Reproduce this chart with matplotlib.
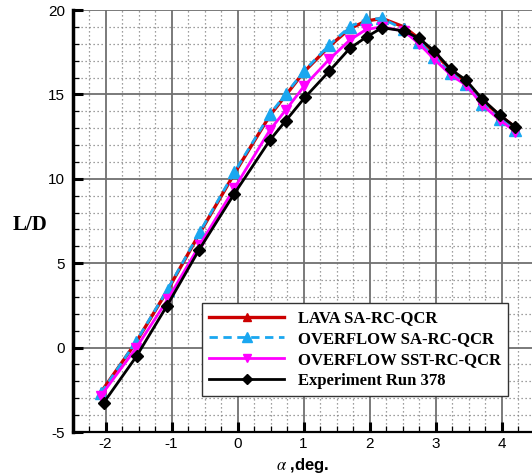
import matplotlib
matplotlib.use("Agg")
import matplotlib.pyplot as plt
from matplotlib.ticker import MultipleLocator

plt.rcParams["mathtext.fontset"] = "stix"
plt.rcParams["axes.unicode_minus"] = False

# ---- data ----
alpha_cfd = [-2.07, -1.54, -1.06, -0.57, -0.05, 0.49, 0.73, 1.01, 1.39, 1.70,
             1.95, 2.19, 2.52, 2.75, 2.98, 3.23, 3.46, 3.71, 3.97, 4.21]
alpha_exp = [-2.03, -1.53, -1.07, -0.58, -0.05, 0.49, 0.73, 1.02, 1.39, 1.70,
             1.96, 2.19, 2.52, 2.75, 2.98, 3.23, 3.46, 3.71, 3.97, 4.21]
lava_sa = [-2.65, 0.30, 3.40, 6.80, 10.30, 13.75, 14.95, 16.35, 17.85, 18.90,
           19.35, 19.50, 19.00, 18.30, 17.45, 16.45, 15.75, 14.65, 13.75, 13.05]
overflow_sa = [-2.70, 0.34, 3.44, 6.86, 10.38, 13.82, 15.02, 16.40, 17.93, 19.01,
               19.45, 19.50, 18.85, 18.10, 17.20, 16.25, 15.60, 14.45, 13.55, 12.90]
overflow_sst = [-2.85, -0.05, 2.85, 6.10, 9.43, 12.89, 14.07, 15.50, 17.08, 18.22,
                18.85, 19.00, 18.75, 18.00, 17.08, 16.15, 15.55, 14.37, 13.48, 12.79]
experiment = [-3.28, -0.51, 2.47, 5.81, 9.11, 12.29, 13.44, 14.82, 16.38, 17.73,
              18.42, 18.95, 18.76, 18.32, 17.57, 16.48, 15.85, 14.71, 13.78, 13.06]
labels = ["LAVA SA-RC-QCR", "OVERFLOW SA-RC-QCR", "OVERFLOW SST-RC-QCR", "Experiment Run 378"]
xticks = [-2, -1, 0, 1, 2, 3, 4]
yticks = [-5, 0, 5, 10, 15, 20]

W, H = 532, 476
fig = plt.figure(figsize=(W / 100, H / 100), dpi=100)
ax = fig.add_axes([72.7 / W, 1 - 432 / H, 1 - 72.7 / W, (432 - 10) / H])

ax.set_xlim(-2.497, 4.46)
ax.set_ylim(-5, 20)
ax.set_xticks(xticks)
ax.set_yticks(yticks)
ax.set_xticklabels([str(v) for v in xticks])
ax.set_yticklabels([str(v) for v in yticks])
ax.xaxis.set_minor_locator(MultipleLocator(0.25))
ax.yaxis.set_minor_locator(MultipleLocator(1))

ax.grid(which="major", color="#707070", linewidth=1.3, linestyle="-", zorder=0)
ax.grid(which="minor", color="#808080", linewidth=0.9, linestyle=(0, (1, 2.2)), zorder=0)
ax.set_axisbelow(True)

for s in ["top", "right"]:
    ax.spines[s].set_visible(False)
ax.spines["left"].set_linewidth(2.5)
ax.spines["bottom"].set_linewidth(1.6)

ax.tick_params(which="major", direction="in", length=7, width=2.2, color="black")
ax.tick_params(which="minor", direction="in", length=4, width=0.9, color="black")
ax.tick_params(axis="y", which="major", pad=5.5)
ax.tick_params(axis="x", which="major", pad=3.5)
for lab in ax.get_xticklabels() + ax.get_yticklabels():
    lab.set_fontfamily("Liberation Sans")
    lab.set_fontsize(11)

l1, = ax.plot(alpha_cfd, lava_sa, color="#cc0000", linewidth=2.4, marker="^",
              markersize=6, markerfacecolor="#cc0000", markeredgecolor="#cc0000", zorder=3)
l2, = ax.plot(alpha_cfd, overflow_sa, color="#1aa7f0", linewidth=2.0, linestyle=(0, (3, 2)),
              marker="^", markersize=8, markerfacecolor="#1aa7f0", markeredgecolor="#1aa7f0", zorder=4)
l3, = ax.plot(alpha_cfd, overflow_sst, color="#ff00ff", linewidth=2.0, marker="v",
              markersize=7, markerfacecolor="#ff00ff", markeredgecolor="#ff00ff", zorder=5)
l4, = ax.plot(alpha_exp, experiment, color="black", linewidth=2.0, marker="D",
              markersize=6.5, markerfacecolor="black", markeredgecolor="black", zorder=6)

leg = ax.legend([l1, l2, l3, l4], labels, loc="lower left",
                bbox_to_anchor=(0.2815, 0.0853), prop={"family": "Liberation Serif", "weight": "bold", "size": 12},
                handlelength=4.5, handletextpad=0.8, labelspacing=0.28, borderpad=0.45,
                frameon=True, fancybox=False, framealpha=1, borderaxespad=0, markerscale=0.85)
leg.get_frame().set_edgecolor("#333333")
leg.get_frame().set_linewidth(1.0)
leg.set_zorder(10)

ax.set_xlabel(r"$\alpha$ ,deg.", fontfamily="Liberation Sans", fontweight="bold", fontsize=12, labelpad=4)
ax.set_ylabel("L/D", fontfamily="Liberation Serif", fontweight="bold", fontsize=15, rotation=0,
              ha="center", va="center")
ax.yaxis.set_label_coords(-0.094, 0.49)

fig.savefig("out.png", dpi=100)
